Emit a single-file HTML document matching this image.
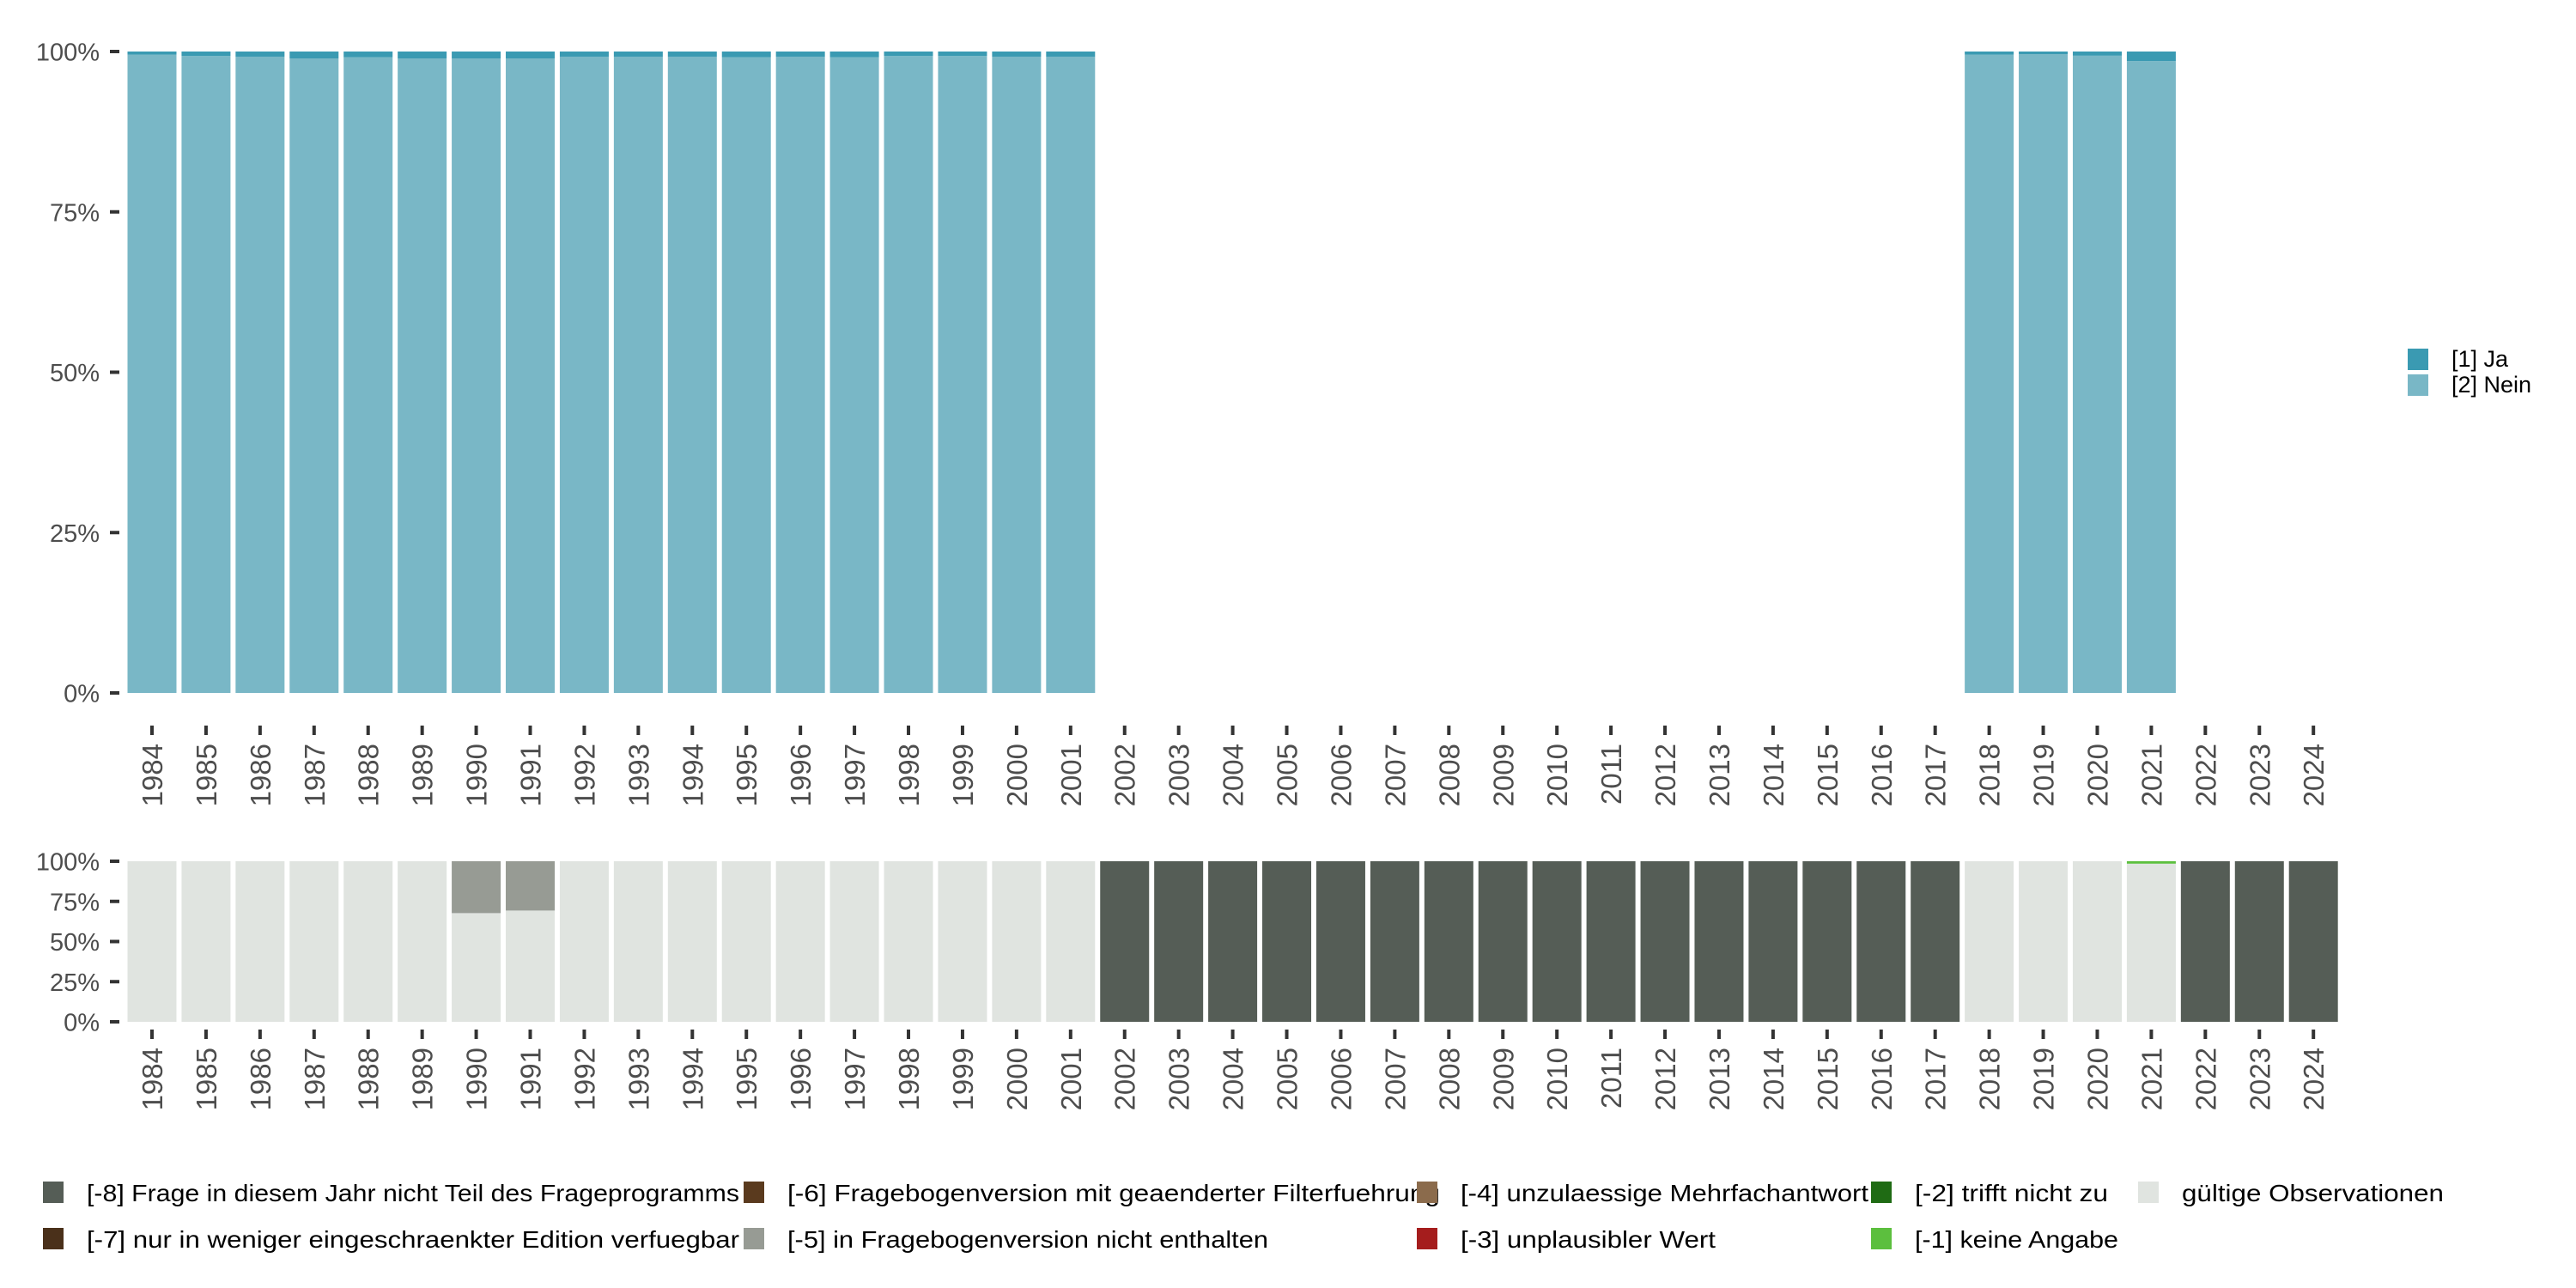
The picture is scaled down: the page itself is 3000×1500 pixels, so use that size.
<!DOCTYPE html>
<html><head><meta charset="utf-8"><style>
html,body{margin:0;padding:0;background:#fff;}
svg{display:block;font-family:"Liberation Sans",sans-serif;}
</style></head><body>
<svg id="chart" width="3000" height="1500" viewBox="0 0 3000 1500"></svg>
<script>
const years = [1984,1985,1986,1987,1988,1989,1990,1991,1992,1993,1994,1995,1996,1997,1998,1999,2000,2001,2002,2003,2004,2005,2006,2007,2008,2009,2010,2011,2012,2013,2014,2015,2016,2017,2018,2019,2020,2021,2022,2023,2024];
// top chart: share of "Ja" in percent (null = no data)
const jaValues = [0.5,0.7,0.8,1.07,0.9,1.07,1.07,1.07,0.8,0.8,0.8,0.9,0.8,0.9,0.7,0.7,0.8,0.8,null,null,null,null,null,null,null,null,null,null,null,null,null,null,null,null,0.5,0.4,0.65,1.5,null,null,null];
// bottom chart: shares in percent
const missing8 = [0,0,0,0,0,0,0,0,0,0,0,0,0,0,0,0,0,0,100,100,100,100,100,100,100,100,100,100,100,100,100,100,100,100,0,0,0,0,100,100,100];
const missing5 = [0,0,0,0,0,0,32.3,30.7,0,0,0,0,0,0,0,0,0,0,0,0,0,0,0,0,0,0,0,0,0,0,0,0,0,0,0,0,0,0,0,0,0];
const missing1 = [0,0,0,0,0,0,0,0,0,0,0,0,0,0,0,0,0,0,0,0,0,0,0,0,0,0,0,0,0,0,0,0,0,0,0,0,0,1.5,0,0,0];
const yTicks = [0,25,50,75,100];
const yTickLabels = ["0%","25%","50%","75%","100%"];

const NS="http://www.w3.org/2000/svg";
const svg=document.getElementById('chart');
function mk(tag,attrs,parent){const e=document.createElementNS(NS,tag);for(const k in attrs)e.setAttribute(k,attrs[k]);(parent||svg).appendChild(e);return e;}

const x0=177, pitch=62.93, bw=57;
function xC(i){return x0+i*pitch;}
const topP={y0:807,y1:60}, botP={y0:1190,y1:1003};
function yS(p,v){return p.y0-(p.y0-p.y1)*v/100;}

function axes(p,labY,tickY1,tickY2,name){
  const g=mk('g',{});
  
  
  yTicks.forEach((t,i)=>{
    const y=yS(p,t);
    const ln=mk('line',{x1:128,x2:139,y1:y,y2:y,stroke:'#333','stroke-width':4},g);
    
    
    const tx=mk('text',{x:116,y:y+10.5,'text-anchor':'end','font-size':29,fill:'#4d4d4d'},g);
    
    
    tx.textContent=yTickLabels[i];
  });
  years.forEach((yr,i)=>{
    const x=xC(i);
    const ln=mk('line',{x1:x,x2:x,y1:tickY1,y2:tickY2,stroke:'#333','stroke-width':4},g);
    
    
    const tx=mk('text',{x:0,y:0,'text-anchor':'end','font-size':33,fill:'#4d4d4d',transform:`translate(${x+12},${labY}) rotate(-90)`},g);
    
    
    tx.textContent=yr;
  });
}
axes(topP,866,845,856,'top');
axes(botP,1220,1199,1210,'bottom');

// top bars
years.forEach((yr,i)=>{
  const ja=jaValues[i]; if(ja===null) return;
  const x=xC(i)-bw/2;
  const r1=mk('rect',{x:x,y:yS(topP,100-ja),width:bw,height:yS(topP,0)-yS(topP,100-ja),fill:'#79b7c6'});
  
  
  const r2=mk('rect',{x:x,y:yS(topP,100),width:bw,height:yS(topP,100-ja)-yS(topP,100),fill:'#3a9ab2'});
  
  
});
// bottom bars
years.forEach((yr,i)=>{
  const x=xC(i)-bw/2;
  const valid=100-missing8[i]-missing5[i]-missing1[i];
  const segs=[[valid,'#e0e4e0','valid'],[missing1[i],'#5cbf3e','m1'],[missing5[i],'#979b94','m5'],[missing8[i],'#555d56','m8']];
  let acc=0;
  segs.forEach(s=>{
    if(s[0]<=0)return;
    const yA=yS(botP,acc+s[0]), yB=yS(botP,acc);
    const r=mk('rect',{x:x,y:yA,width:bw,height:yB-yA,fill:s[1]});
    
    
    acc+=s[0];
  });
});

// right legend
[['[1] Ja','#3a9ab2',406],['[2] Nein','#79b7c6',436]].forEach(l=>{
  const g=mk('g',{});
  
  
  mk('rect',{x:2804,y:l[2],width:24,height:25,fill:l[1]},g);
  const t=mk('text',{x:2855,y:l[2]+21,'font-size':27,fill:'#000'},g);
  t.textContent=l[0];
});

// bottom legend
const legItems=[
 ['[-8] Frage in diesem Jahr nicht Teil des Frageprogramms','#555d56',50,1376,760],
 ['[-7] nur in weniger eingeschraenkter Edition verfuegbar','#4a301a',50,1430,760],
 ['[-6] Fragebogenversion mit geaenderter Filterfuehrung','#5a3a1e',866,1376,760],
 ['[-5] in Fragebogenversion nicht enthalten','#979b94',866,1430,560],
 ['[-4] unzulaessige Mehrfachantwort','#8b6b4c',1650,1376,475],
 ['[-3] unplausibler Wert','#a51d1d',1650,1430,297],
 ['[-2] trifft nicht zu','#1f6b14',2179,1376,225],
 ['[-1] keine Angabe','#5cbf3e',2179,1430,237],
 ['gültige Observationen','#e0e4e0',2490,1376,305]
];
legItems.forEach(l=>{
  const g=mk('g',{});
  
  
  mk('rect',{x:l[2],y:l[3],width:24,height:25,fill:l[1]},g);
  const t=mk('text',{x:l[2]+51,y:l[3]+23,'font-size':28,fill:'#000',textLength:l[4],lengthAdjust:'spacingAndGlyphs'},g);
  t.textContent=l[0];
});
</script>
</body></html>
